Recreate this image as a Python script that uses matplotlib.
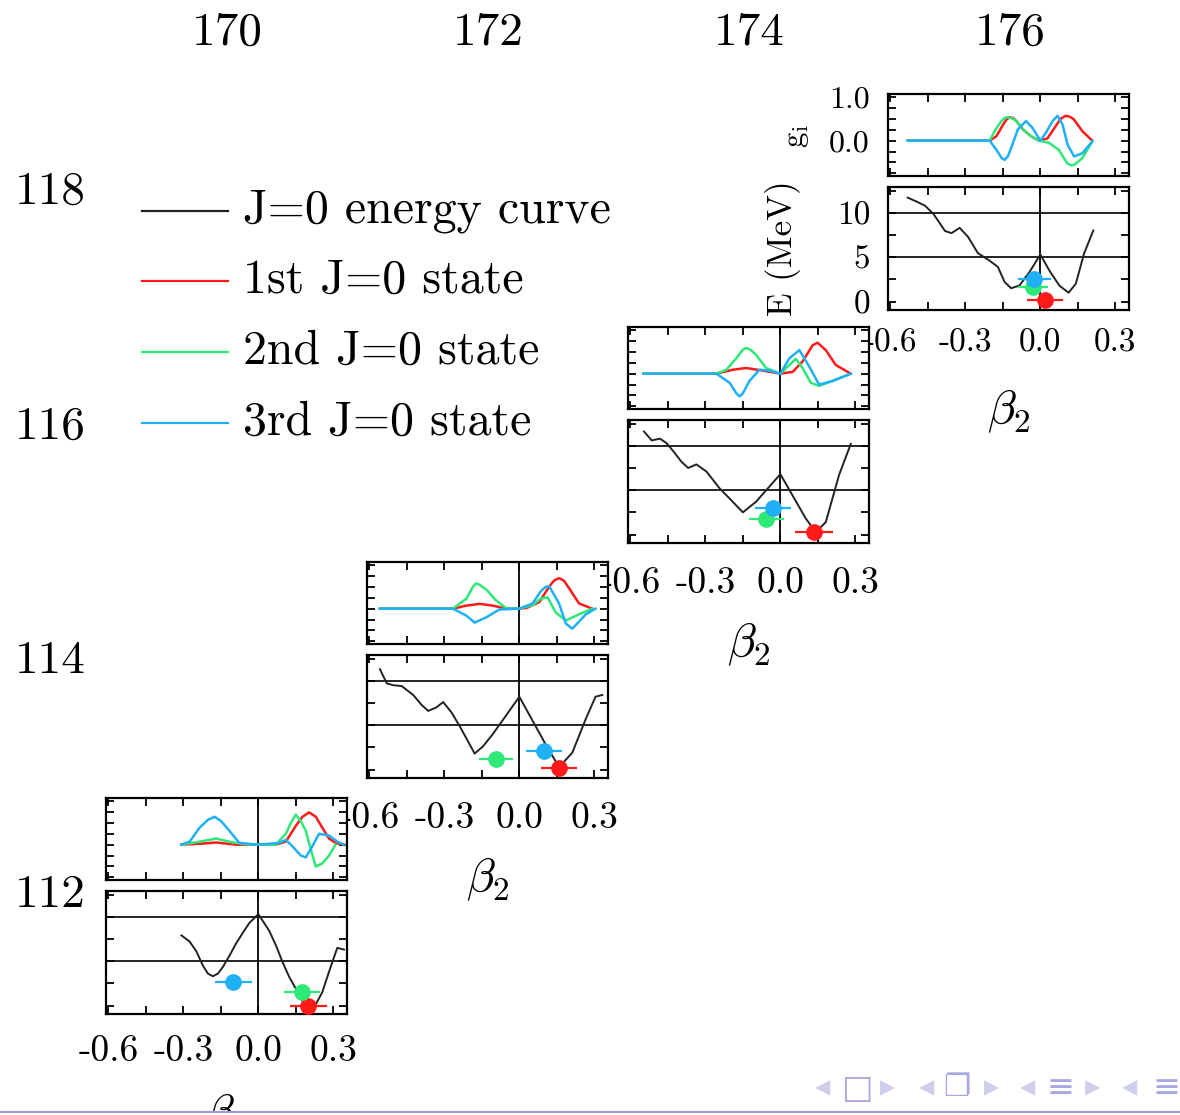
import matplotlib
matplotlib.use("Agg")
import matplotlib.pyplot as plt
from matplotlib.patches import Rectangle
from matplotlib.lines import Line2D

plt.rcParams['mathtext.fontset'] = 'cm'
plt.rcParams['font.family'] = 'cmr10'
plt.rcParams['axes.unicode_minus'] = False

# neutron numbers (columns) and proton numbers (rows)
N_LABELS = ["170", "172", "174", "176"]
Z_LABELS = ["118", "116", "114", "112"]

LEGEND_LABELS = ["J=0 energy curve", "1st J=0 state", "2nd J=0 state", "3rd J=0 state"]
STATE_COLORS = ["#ff1a1a", "#2ee878", "#1fb0f5"]

# ---------------- N = 176 (Z = 118) ----------------
beta_E_176 = [-0.531, -0.495, -0.462, -0.429, -0.402, -0.382, -0.356, -0.323, -0.290, -0.250,
              -0.203, -0.170, -0.143, -0.117, -0.084, -0.044, 0.0, 0.036, 0.076, 0.113, 0.142,
              0.175, 0.212]
E_176 = [11.7, 11.25, 10.8, 9.9, 8.8, 7.95, 7.7, 8.3, 7.3, 5.45, 4.6, 3.9, 2.2, 1.5, 1.8, 3.3,
         5.3, 3.5, 1.8, 1.0, 2.0, 5.4, 8.0]
beta_g1_176 = [-0.531, -0.203, -0.176, -0.149, -0.136, -0.123, -0.110, -0.096, -0.070, -0.037,
               -0.005, 0.028, 0.061, 0.081, 0.101, 0.118, 0.134, 0.168, 0.208]
g1_176 = [0, 0, 0.10, 0.37, 0.48, 0.54, 0.52, 0.45, 0.26, 0.10, 0, 0.05, 0.33, 0.50, 0.57,
          0.55, 0.49, 0.22, 0]
beta_g2_176 = [-0.531, -0.203, -0.183, -0.156, -0.143, -0.130, -0.113, -0.096, -0.070, -0.037,
               -0.005, 0.035, 0.074, 0.108, 0.122, 0.135, 0.168, 0.208]
g2_176 = [0, 0, 0.22, 0.45, 0.52, 0.54, 0.51, 0.45, 0.26, 0.10, 0, -0.05, -0.21, -0.52, -0.56,
          -0.56, -0.40, -0.02]
beta_g3_176 = [-0.531, -0.203, -0.176, -0.155, -0.143, -0.130, -0.117, -0.090, -0.057, -0.031,
               0.0, 0.022, 0.049, 0.069, 0.089, 0.109, 0.135, 0.168, 0.208]
g3_176 = [0, 0, -0.21, -0.40, -0.44, -0.36, -0.17, 0.26, 0.45, 0.29, 0, 0.18, 0.45, 0.57, 0.37,
          -0.09, -0.36, -0.29, -0.02]
state_beta_176 = [0.020, -0.030, -0.024]
state_E_176 = [0.15, 1.6, 2.55]
state_err_176 = [0.072, 0.060, 0.065]

# ---------------- N = 174 (Z = 116) ----------------
beta_E_174 = [-0.546, -0.515, -0.482, -0.456, -0.429, -0.396, -0.369, -0.336, -0.296, -0.243,
              -0.203, -0.150, -0.097, -0.044, 0.0, 0.049, 0.102, 0.142, 0.182, 0.235, 0.282]
E_174 = [11.6, 10.6, 10.8, 10.3, 9.4, 8.2, 7.5, 7.9, 7.1, 5.2, 4.05, 2.5, 3.7, 5.4, 6.8, 4.4,
         1.8, 0.27, 1.4, 6.7, 10.2]
beta_g1_174 = [-0.548, -0.256, -0.190, -0.137, -0.070, 0.0, 0.049, 0.089, 0.129, 0.149, 0.182,
               0.222, 0.282]
g1_174 = [0, 0, 0.09, 0.13, 0.07, 0, 0.04, 0.28, 0.65, 0.71, 0.54, 0.20, 0]
beta_g2_174 = [-0.548, -0.256, -0.216, -0.177, -0.150, -0.137, -0.120, -0.097, -0.057, 0.0,
               0.029, 0.062, 0.089, 0.122, 0.155, 0.208, 0.282]
g2_174 = [0, 0, 0.09, 0.35, 0.55, 0.59, 0.55, 0.43, 0.13, 0, 0.16, 0.34, 0.13, -0.21, -0.28,
          -0.17, 0]
beta_g3_174 = [-0.548, -0.256, -0.203, -0.175, -0.163, -0.150, -0.124, -0.084, -0.044, 0.0,
               0.036, 0.076, 0.116, 0.155, 0.208, 0.282]
g3_174 = [0, 0, -0.21, -0.46, -0.52, -0.45, -0.17, 0.09, 0.07, 0, 0.35, 0.54, 0.16, -0.25,
          -0.17, 0]
state_beta_174 = [0.135, -0.057, -0.028]
state_E_174 = [0.27, 1.8, 3.0]
state_err_174 = [0.075, 0.070, 0.072]

# ---------------- N = 172 (Z = 114) ----------------
beta_E_172 = [-0.558, -0.531, -0.505, -0.471, -0.425, -0.392, -0.365, -0.332, -0.305, -0.272,
              -0.239, -0.206, -0.179, -0.146, -0.106, -0.053, 0.0, 0.053, 0.106, 0.159, 0.212,
              0.266, 0.305, 0.332]
E_172 = [11.3, 9.7, 9.5, 9.4, 8.4, 7.3, 6.6, 7.0, 7.6, 6.45, 4.9, 3.2, 1.8, 2.6, 4.0, 6.1, 8.2,
         5.5, 2.8, 0.27, 1.9, 5.7, 8.2, 8.4]
beta_g1_172 = [-0.558, -0.266, -0.212, -0.159, -0.106, -0.053, 0.027, 0.080, 0.120, 0.140,
               0.159, 0.179, 0.199, 0.239, 0.292]
g1_172 = [0, 0, 0.07, 0.11, 0.07, 0, 0.01, 0.15, 0.51, 0.65, 0.70, 0.64, 0.47, 0.12, 0]
beta_g2_172 = [-0.558, -0.266, -0.212, -0.186, -0.173, -0.160, -0.133, -0.093, -0.053, 0.0,
               0.053, 0.086, 0.113, 0.146, 0.186, 0.239, 0.292]
g2_172 = [0, 0, 0.23, 0.50, 0.58, 0.55, 0.44, 0.19, 0.01, 0, 0.08, 0.23, 0.26, -0.09, -0.27,
          -0.13, 0]
beta_g3_172 = [-0.558, -0.266, -0.212, -0.179, -0.133, -0.080, 0.0, 0.053, 0.086, 0.105, 0.120,
               0.159, 0.186, 0.212, 0.266, 0.305]
g3_172 = [0, 0, -0.16, -0.32, -0.20, -0.02, 0, 0.12, 0.40, 0.50, 0.51, 0.12, -0.34, -0.46,
          -0.13, 0]
state_beta_172 = [0.159, -0.093, 0.100]
state_E_172 = [0.15, 1.2, 2.1]
state_err_172 = [0.073, 0.068, 0.072]

# ---------------- N = 170 (Z = 112) ----------------
beta_E_170 = [-0.308, -0.275, -0.248, -0.222, -0.202, -0.182, -0.162, -0.142, -0.116, -0.089,
              -0.062, -0.036, 0.0, 0.044, 0.070, 0.097, 0.124, 0.150, 0.177, 0.203, 0.230, 0.256,
              0.283, 0.316, 0.343]
E_170 = [7.9, 7.2, 6.1, 4.5, 3.6, 3.3, 3.6, 4.35, 5.6, 7.0, 8.2, 9.3, 10.3, 8.4, 6.8, 4.9, 3.2,
         1.9, 0.5, 0.0, 0.15, 1.5, 3.8, 6.5, 6.3]
beta_g1_170 = [-0.308, -0.235, -0.169, -0.089, 0.070, 0.110, 0.150, 0.177, 0.203, 0.230, 0.256,
               0.283, 0.309, 0.343]
g1_170 = [0, 0.02, 0.05, 0, 0, 0.07, 0.43, 0.64, 0.74, 0.64, 0.39, 0.14, 0.04, 0]
beta_g2_170 = [-0.308, -0.235, -0.169, -0.102, -0.036, 0.070, 0.110, 0.130, 0.150, 0.170, 0.190,
               0.210, 0.230, 0.256, 0.283, 0.309]
g2_170 = [0, 0.07, 0.14, 0.05, 0, 0, 0.25, 0.50, 0.69, 0.54, 0.32, -0.11, -0.50, -0.43, -0.25, 0]
beta_g3_170 = [-0.308, -0.275, -0.235, -0.202, -0.175, -0.149, -0.122, -0.076, 0.0, 0.084, 0.110,
               0.137, 0.170, 0.190, 0.216, 0.243, 0.283, 0.316, 0.343]
g3_170 = [0, 0.07, 0.39, 0.57, 0.64, 0.54, 0.36, 0.04, 0, 0.04, 0.11, -0.04, -0.25, -0.29, -0.04,
          0.25, 0.21, 0.07, 0]
state_beta_170 = [0.200, 0.174, -0.100]
state_E_170 = [0.0, 1.5, 2.6]
state_err_170 = [0.074, 0.073, 0.073]

FIG_W, FIG_H = 1180, 1115
AX_W, G_H, GAP, E_H = 241, 82, 11, 123
XLIM = (-0.61, 0.355)
G_LIM = (-0.81, 1.07)
E_LIM = (-0.95, 12.9)


def box(left, top, width, height):
    return [left / FIG_W, 1 - (top + height) / FIG_H, width / FIG_W, height / FIG_H]


def style_axes(ax):
    ax.set_xlim(*XLIM)
    ax.set_xticks([-0.6, -0.45, -0.3, -0.15, 0.0, 0.15, 0.3])
    ax.tick_params(direction='in', length=6, width=1.3, top=True, right=True,
                   labelbottom=False, labelleft=False)
    for sp in ax.spines.values():
        sp.set_linewidth(1.6)


def draw_panel(left, top, beta_E, E, g_curves, st_beta, st_E, st_err, zero_line_g=True,
               labels=False, xpad=17):
    # wavefunction panel
    axg = fig.add_axes(box(left, top, AX_W, G_H))
    style_axes(axg)
    axg.set_ylim(*G_LIM)
    axg.set_yticks([-0.75, -0.5, -0.25, 0.0, 0.25, 0.5, 0.75, 1.0])
    if zero_line_g:
        axg.axvline(0, color='black', lw=1.3)
    for (bx, gy), c in zip(g_curves, STATE_COLORS):
        axg.plot(bx, gy, color=c, lw=1.8, solid_joinstyle='round')

    # energy panel
    axe = fig.add_axes(box(left, top + G_H + GAP, AX_W, E_H))
    style_axes(axe)
    axe.set_ylim(*E_LIM)
    axe.set_yticks([0, 2.5, 5, 7.5, 10, 12.5])
    axe.axhline(5, color='black', lw=1.2)
    axe.axhline(10, color='black', lw=1.2)
    axe.axvline(0, color='black', lw=1.3)
    axe.plot(beta_E, E, color='#222222', lw=1.4, solid_joinstyle='round')
    for b, e, err, c in zip(st_beta, st_E, st_err, STATE_COLORS):
        axe.errorbar([b], [e], xerr=[err], fmt='o', color=c, ms=11, elinewidth=1.6,
                     capsize=0, zorder=5)
    axe.tick_params(labelbottom=True, labelsize=27, pad=xpad)
    axe.set_xticklabels(["-0.6", "", "-0.3", "", "0.0", "", "0.3"])

    if labels:
        axg.tick_params(labelleft=True, labelsize=23, pad=13)
        axg.set_yticklabels(["", "", "", "0.0", "", "", "", "1.0"])
        axe.tick_params(labelleft=True, labelsize=24, pad=13)
        axe.set_yticklabels(["0", "", "5", "", "10", ""])

    fig.text((left + AX_W / 2) / FIG_W, 1 - (top + G_H + GAP + E_H + 101) / FIG_H,
             r'$\beta_2$', fontsize=34, ha='center', va='center')
    return axg, axe


fig = plt.figure(figsize=(FIG_W / 100, FIG_H / 100), dpi=100)

# panels are added top-right first so lower panels cover the tick labels above them
draw_panel(888, 94, beta_E_176, E_176,
           [(beta_g1_176, g1_176), (beta_g2_176, g2_176), (beta_g3_176, g3_176)],
           state_beta_176, state_E_176, state_err_176, zero_line_g=False, labels=True, xpad=21)
draw_panel(628, 327, beta_E_174, E_174,
           [(beta_g1_174, g1_174), (beta_g2_174, g2_174), (beta_g3_174, g3_174)],
           state_beta_174, state_E_174, state_err_174)
draw_panel(367, 562, beta_E_172, E_172,
           [(beta_g1_172, g1_172), (beta_g2_172, g2_172), (beta_g3_172, g3_172)],
           state_beta_172, state_E_172, state_err_172)
draw_panel(106, 798, beta_E_170, E_170,
           [(beta_g1_170, g1_170), (beta_g2_170, g2_170), (beta_g3_170, g3_170)],
           state_beta_170, state_E_170, state_err_170, xpad=15)

# axis titles of the top-right panel
fig.text(783 / FIG_W, 1 - 248 / FIG_H, "E (MeV)", rotation=90, fontsize=25,
         ha='center', va='center')
fig.text(797 / FIG_W, 1 - 136 / FIG_H, r'$\mathrm{g}_\mathrm{i}$', rotation=90, fontsize=22,
         ha='center', va='center')

# column / row headers
for lab, xc in zip(N_LABELS, [227, 488, 749, 1010]):
    fig.text(xc / FIG_W, 1 - 33 / FIG_H, lab, fontsize=34, ha='center', va='center')
for lab, yc in zip(Z_LABELS, [192, 427, 661, 895]):
    fig.text(50 / FIG_W, 1 - yc / FIG_H, lab, fontsize=34, ha='center', va='center')

# legend drawn by hand
for lab, c, yc in zip(LEGEND_LABELS, ["#222222"] + STATE_COLORS, [211, 281, 352, 423]):
    y = 1 - yc / FIG_H
    fig.add_artist(Line2D([142 / FIG_W, 228 / FIG_W], [y, y], color=c, lw=1.6))
    fig.text(243 / FIG_W, y, lab, fontsize=34.5, ha='left', va='center')

# slide footer: frame line and navigation symbols
fig.add_artist(Rectangle((0, 0), 1, 3 / FIG_H, transform=fig.transFigure,
                         facecolor='white', edgecolor='none', zorder=10))
fig.add_artist(Line2D([0, 1], [3 / FIG_H, 3 / FIG_H], color='#9a9ad8', lw=1.5, zorder=11))
nav = [("\u25c2", 823, '#cfcfec', 22), ("\u25a1", 858, '#a8a8e0', 24),
       ("\u25b8", 888, '#cfcfec', 22), ("\u25c2", 927, '#cfcfec', 22),
       ("\u2750", 957, '#a8a8e0', 22), ("\u25b8", 992, '#cfcfec', 22),
       ("\u25c2", 1028, '#cfcfec', 22), ("\u2261", 1060, '#a8a8e0', 24),
       ("\u25b8", 1093, '#cfcfec', 22), ("\u25c2", 1130, '#cfcfec', 22),
       ("\u2261", 1167, '#a8a8e0', 24)]
for sym, xc, c, fs in nav:
    fig.text(xc / FIG_W, 1 - 1088 / FIG_H, sym, fontsize=fs, color=c, ha='center', va='center',
             family='DejaVu Sans', zorder=12)

fig.savefig("out.png", dpi=100)
